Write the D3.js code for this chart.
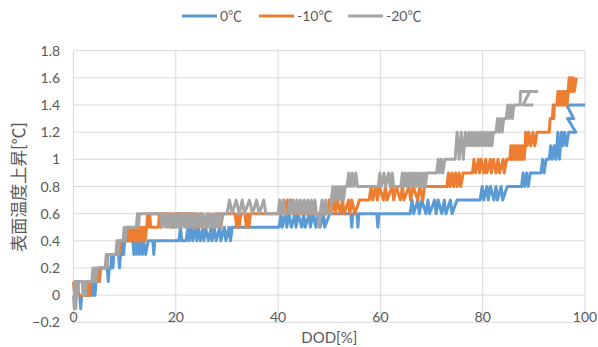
<!DOCTYPE html>
<html>
<head>
<meta charset="utf-8">
<script src="https://cdn.jsdelivr.net/npm/d3@7"></script>
<style>
  body { margin: 0; background: #fff; }
  text { font-family: Lato, "Noto Sans CJK JP", sans-serif; fill: #595959; }
</style>
</head>
<body>
<svg id="chart" width="598" height="347"></svg>
<script>
// series names + colours
var seriesNames = ["0℃", "-10℃", "-20℃"];
var seriesColors = ["#5B9BD5", "#ED7D31", "#A5A5A5"];

var xTicks = [0, 20, 40, 60, 80, 100];
var yTicks = [-0.2, 0, 0.2, 0.4, 0.6, 0.8, 1, 1.2, 1.4, 1.6, 1.8];

// [DOD %, temperature rise]
var blue0 = [
  [0,0],[1.2,0],[1.4,-0.1],[1.6,0],
  [3.4,0],[3.6,0.1],[3.8,0],[4.0,0.1],[4.2,0],[4.4,0.1],[4.7,0.1],
  [4.9,0.2],[5.1,0.1],[5.3,0.2],
  [6.6,0.2],[6.8,0.1],[7.0,0.2],[7.3,0.2],
  [7.5,0.3],[7.7,0.2],[7.9,0.3],
  [8.8,0.3],[9.0,0.2],[9.2,0.3],[9.4,0.3],
  [9.6,0.4],[9.8,0.3],[10.0,0.4],
  [11.6,0.4],[11.8,0.3],[12.1,0.4],[12.3,0.3],[12.7,0.4],[12.9,0.3],[13.1,0.4],[13.5,0.3],[13.7,0.4],[14.1,0.3],[14.6,0.4],
  [15.5,0.4],[15.7,0.3],[15.9,0.4],
  [20.6,0.4],[20.9,0.5],[21.2,0.4],
  [22.0,0.4],[22.4,0.5],[22.6,0.4],[23.1,0.5],[23.3,0.4],[23.9,0.5],[24.1,0.4],[24.4,0.5],[24.8,0.4],[25.3,0.5],[25.5,0.4],[25.8,0.5],[26.4,0.4],[26.9,0.5],[27.1,0.4],[27.5,0.5],[27.9,0.4],[28.6,0.5],[28.8,0.4],[29.5,0.5],[29.8,0.4],[30.4,0.5],[30.7,0.4],[31.0,0.5],
  [40.2,0.5],[40.6,0.6],[40.8,0.5],[41.5,0.6],[41.7,0.5],[42.1,0.6],[42.6,0.5],[43.3,0.6],[43.5,0.5],[43.9,0.6],[44.6,0.5],[45.0,0.6],[45.3,0.5],[46.1,0.6],[46.3,0.5],[46.8,0.6],[47.4,0.5],[47.7,0.6],[48.2,0.5],[48.9,0.6],[49.1,0.5],[50.1,0.6],
  [54.2,0.6],[54.4,0.5],[54.6,0.6],[55.4,0.6],[55.6,0.5],[55.8,0.6],[59.3,0.6],[59.5,0.5],[59.7,0.6],
  [65.8,0.6],[66.2,0.7],[66.5,0.6],[67.3,0.7],[67.6,0.6],[68.1,0.7],[68.9,0.6],[69.3,0.7],[69.6,0.6],[70.6,0.7],[70.9,0.6],[71.3,0.7],[72.0,0.6],[72.5,0.7],[72.8,0.6],[73.7,0.7],[74.0,0.6],[75.0,0.7],
  [79.5,0.7],[79.9,0.8],[80.2,0.7],[80.8,0.8],[81.1,0.7],[81.5,0.8],[82.2,0.7],[82.6,0.8],[82.9,0.7],[83.6,0.8],[83.9,0.7],[84.8,0.8],
  [87.6,0.8],[87.9,0.9],[88.2,0.8],[88.6,0.9],[88.9,0.8],[89.3,0.9],
  [91.4,0.9],[91.7,1.0],[92.0,0.9],[92.4,1.0],
  [93.0,1.0],[93.3,1.1],[93.6,1.0],[94.0,1.1],[94.3,1.0],[94.7,1.2],[95.0,1.0],[95.4,1.2],
  [95.7,1.1],[96.0,1.2],[96.4,1.1],[96.8,1.2],[98.2,1.2],
  [96.6,1.3],[97.8,1.3],[96.4,1.4],[100,1.4]
];

var orange10 = [
  [0,0.1],[0.2,0],[0.4,0.1],[0.6,0],[0.8,0.1],[1.0,0],
  [2.8,0],[3.0,0.1],[3.2,0],[3.4,0.1],[3.6,0.1],
  [5.0,0.1],[5.2,0.2],
  [6.4,0.2],[6.6,0.3],
  [8.5,0.3],[8.7,0.4],[8.9,0.3],[9.1,0.4],
  [10.4,0.4],[10.6,0.5],[10.8,0.4],[11.0,0.5],[11.2,0.4],[11.4,0.5],[11.6,0.4],[11.8,0.5],[12.0,0.4],[12.2,0.5],[12.4,0.4],[12.6,0.5],[12.8,0.4],[13.0,0.5],[13.2,0.4],[13.4,0.5],[13.6,0.4],[13.8,0.5],[14.0,0.4],[14.3,0.5],
  [14.5,0.6],[14.7,0.5],[14.9,0.6],[15.1,0.5],[16.6,0.5],[16.8,0.6],[17.0,0.5],[17.2,0.6],[15.2,0.6],
  [18.9,0.6],[19.1,0.5],[19.3,0.6],[19.5,0.5],[19.8,0.6],
  [23.4,0.6],[23.7,0.5],[24.0,0.6],[24.6,0.5],[25.0,0.6],[26.0,0.5],[26.3,0.6],[27.4,0.5],[27.8,0.6],
  [28.6,0.6],[28.8,0.5],[29.2,0.6],
  [31.6,0.6],[31.9,0.5],[32.2,0.6],[32.4,0.5],[32.7,0.6],
  [33.5,0.6],[33.8,0.5],[34.1,0.6],[34.3,0.5],[34.6,0.6],
  [40.8,0.6],[41.1,0.7],[41.4,0.6],[41.8,0.7],[42.1,0.6],[42.5,0.7],[42.8,0.6],
  [49.6,0.6],[50.0,0.7],[50.3,0.6],[51.0,0.7],[51.2,0.6],[51.6,0.7],[52.2,0.6],[52.6,0.7],[52.9,0.6],[53.8,0.7],[54.0,0.6],[54.4,0.7],[55.0,0.6],[55.9,0.7],
  [57.8,0.7],[58.2,0.8],[58.5,0.7],[59.1,0.8],[59.4,0.7],[59.8,0.8],[60.6,0.7],[61.0,0.8],[61.3,0.7],[62.3,0.8],[62.6,0.7],[63.1,0.8],[63.9,0.7],[64.3,0.8],[64.6,0.7],[65.6,0.8],[65.9,0.7],[66.4,0.8],[67.3,0.7],[67.7,0.8],[68.3,0.7],[68.6,0.8],
  [73.0,0.8],[73.3,0.9],[73.6,0.8],[74.0,0.9],[74.3,0.8],[74.7,0.9],[75.0,0.8],[75.4,0.9],[75.7,0.8],[76.2,0.9],
  [78.0,0.9],[78.3,1.0],[78.6,0.9],[79.2,1.0],[79.4,0.9],[79.7,1.0],[80.2,0.9],[80.6,1.0],[80.8,0.9],[81.5,1.0],[81.7,0.9],[82.1,1.0],[82.6,0.9],[83.0,1.0],[83.3,0.9],[84.0,1.0],[84.2,0.9],[84.7,1.0],
  [85.3,1.0],[85.5,1.1],[85.7,1.0],[85.9,1.1],[86.1,1.0],[86.3,1.1],[86.5,1.0],[86.7,1.1],[86.9,1.0],[87.1,1.1],[87.3,1.0],[87.5,1.1],[87.7,1.0],[87.9,1.1],[88.1,1.0],[88.3,1.1],
  [88.4,1.2],[88.7,1.1],[89.0,1.2],[89.4,1.1],[89.8,1.2],[90.2,1.1],[90.6,1.2],
  [93.0,1.2],[93.2,1.3],[93.6,1.3],[93.8,1.4],[93.9,1.3],[94.0,1.4],
  [94.5,1.4],[94.7,1.5],[94.9,1.4],[95.1,1.5],[95.3,1.4],[95.5,1.5],[95.7,1.4],[95.9,1.5],[96.1,1.4],[96.3,1.5],[96.5,1.4],[96.7,1.5],
  [96.9,1.6],[97.1,1.5],[97.3,1.6],[97.5,1.5],[97.7,1.6],[97.9,1.5],[98.3,1.6]
];

var gray20 = [
  [0,0],[0.15,-0.1],[0.3,0.1],[0.45,-0.1],[0.6,0.1],[0.8,0],[1.0,0.1],
  [1.7,0.1],[1.9,0],[2.1,0.1],[2.3,0],[2.5,0.1],
  [3.6,0.1],[3.8,0.2],[4.0,0.1],[4.2,0.2],[4.4,0.1],[4.6,0.2],
  [6.2,0.2],[6.4,0.3],[6.6,0.2],[6.8,0.3],
  [8.3,0.3],[8.5,0.4],[8.7,0.3],[8.9,0.4],
  [9.7,0.4],[9.9,0.5],[10.1,0.4],[10.3,0.5],
  [12.3,0.5],[12.5,0.6],[12.7,0.5],[12.9,0.6],
  [17.0,0.6],[17.3,0.5],[17.6,0.6],[18.0,0.5],[18.2,0.6],[18.5,0.5],[18.9,0.6],[19.1,0.5],[19.4,0.6],[19.8,0.5],[20.0,0.6],[20.3,0.5],[20.7,0.6],[20.9,0.5],[21.2,0.6],[21.6,0.5],[21.8,0.6],[22.1,0.5],[22.5,0.6],[22.7,0.5],[23.0,0.6],[23.4,0.5],[23.6,0.6],[23.9,0.5],[24.3,0.6],[24.5,0.5],[24.8,0.6],[25.2,0.5],[25.4,0.6],[25.7,0.5],[26.1,0.6],[26.3,0.5],[26.6,0.6],[27.0,0.5],[27.2,0.6],[27.5,0.5],[27.9,0.6],[28.1,0.5],[28.4,0.6],[28.8,0.5],[29.0,0.6],
  [30.0,0.6],[30.5,0.7],[31.0,0.6],[31.8,0.7],[32.4,0.6],[33.0,0.7],[33.4,0.6],[34.4,0.7],[35.0,0.6],[35.8,0.7],[36.3,0.6],[37.2,0.7],[37.6,0.6],
  [40.0,0.6],[40.3,0.7],[40.6,0.6],[41.0,0.7],[41.4,0.6],
  [42.0,0.6],[42.3,0.7],[42.6,0.6],[43.0,0.7],[43.3,0.6],[43.7,0.7],[44.0,0.6],[44.4,0.7],[44.7,0.6],[45.1,0.7],[45.4,0.6],[45.8,0.7],[46.1,0.6],[46.5,0.7],[46.8,0.6],[47.2,0.7],[47.5,0.6],[47.8,0.6],[48.0,0.5],[48.2,0.6],[48.6,0.7],[48.9,0.6],[49.3,0.7],[49.6,0.6],
  [50.2,0.6],[50.4,0.7],[50.7,0.8],[51.0,0.7],[51.3,0.8],[51.6,0.7],[51.9,0.8],[52.2,0.7],[52.5,0.8],[52.8,0.7],[53.1,0.8],[53.5,0.8],[53.8,0.9],[54.1,0.8],[54.5,0.9],[54.8,0.8],[55.2,0.9],[55.5,0.8],
  [59.6,0.8],[59.9,0.9],[60.2,0.8],[60.7,0.9],[61.0,0.8],[61.6,0.9],[61.9,0.8],[62.3,0.9],[62.6,0.8],
  [64.0,0.8],[64.3,0.9],[64.6,0.8],[64.9,0.9],[65.2,0.8],[65.5,0.9],[65.8,0.8],[66.1,0.9],[66.4,0.8],[66.7,0.9],[67.0,0.8],[67.3,0.9],[67.6,0.8],[67.9,0.9],[68.2,0.8],[68.5,0.9],[68.8,0.8],[69.1,0.9],
  [71.0,0.9],[71.3,1.0],[71.6,0.9],[71.9,1.0],[72.2,0.9],[72.6,1.0],
  [74.6,1.0],[75.0,1.2],[75.4,1.0],[75.8,1.2],[76.2,1.0],[76.6,1.2],[77.0,1.1],[77.3,1.2],[77.6,1.1],[77.9,1.2],[78.2,1.1],[78.5,1.2],[78.8,1.1],[79.1,1.2],[79.4,1.1],[79.7,1.2],[80.0,1.1],[80.3,1.2],[80.6,1.1],[80.9,1.2],[81.2,1.1],[81.5,1.2],[81.8,1.1],[82.1,1.2],
  [82.6,1.2],[82.9,1.3],[83.2,1.2],[83.5,1.3],[83.8,1.2],[84.1,1.3],
  [84.6,1.3],[84.9,1.4],[85.2,1.3],[85.5,1.4],[85.8,1.3],[86.1,1.4],
  [87.3,1.4],[87.4,1.5],[90.6,1.5],[89.2,1.5],[87.9,1.4],[89.9,1.4]
];

var allSeries = [blue0, orange10, gray20];

var W = 598, H = 347;
var m = { left: 73.5, right: 598 - 585, top: 50.7, bottom: 347 - 322.3 };

var svg = d3.select("#chart");
svg.append("rect").attr("width", W).attr("height", H).attr("fill", "#fff");

var x = d3.scaleLinear().domain([0, 100]).range([m.left, W - m.right]);
var y = d3.scaleLinear().domain([-0.2, 1.8]).range([H - m.bottom, m.top]);

// gridlines
svg.append("g").selectAll("line.h")
  .data(yTicks).enter().append("line")
  .attr("x1", x(0)).attr("x2", x(100))
  .attr("y1", d => y(d)).attr("y2", d => y(d))
  .attr("stroke", "#d9d9d9").attr("stroke-width", 1);

svg.append("g").selectAll("line.v")
  .data(xTicks).enter().append("line")
  .attr("x1", d => x(d)).attr("x2", d => x(d))
  .attr("y1", y(-0.2)).attr("y2", y(1.8))
  .attr("stroke", "#d9d9d9").attr("stroke-width", 1);

// y tick labels
svg.append("g").selectAll("text")
  .data(yTicks).enter().append("text")
  .attr("x", 60).attr("y", d => y(d) + 5)
  .attr("text-anchor", "end")
  .style("font-size", "14px")
  .text(d => d3.format("~g")(d));

// x tick labels sit under the zero line
svg.append("g").selectAll("text")
  .data(xTicks).enter().append("text")
  .attr("x", d => x(d)).attr("y", y(0) + 27)
  .attr("text-anchor", "middle")
  .style("font-size", "14px")
  .text(d => d);

// series
var line = d3.line().x(d => x(d[0])).y(d => y(d[1]));
svg.append("g").selectAll("path")
  .data(allSeries).enter().append("path")
  .attr("d", line)
  .attr("fill", "none")
  .attr("stroke", (d, i) => seriesColors[i])
  .attr("stroke-width", 3)
  .attr("stroke-linejoin", "round");

// axis titles
svg.append("text")
  .attr("x", x(50)).attr("y", 343)
  .attr("text-anchor", "middle")
  .style("font-size", "15px")
  .text("DOD[%]");

svg.append("text")
  .attr("transform", "translate(25,187) rotate(-90)")
  .attr("text-anchor", "middle")
  .style("font-size", "17px")
  .text("表面温度上昇[℃]");

// legend
var legX = [182, 259, 348];
var leg = svg.append("g").selectAll("g")
  .data(seriesNames).enter().append("g")
  .attr("transform", (d, i) => "translate(" + legX[i] + ",16)");
leg.append("line")
  .attr("x1", 0).attr("x2", 35)
  .attr("stroke", (d, i) => seriesColors[i])
  .attr("stroke-width", 3);
leg.append("text")
  .attr("x", 38).attr("y", 5)
  .style("font-size", "14px")
  .text(d => d);
</script>
</body>
</html>
